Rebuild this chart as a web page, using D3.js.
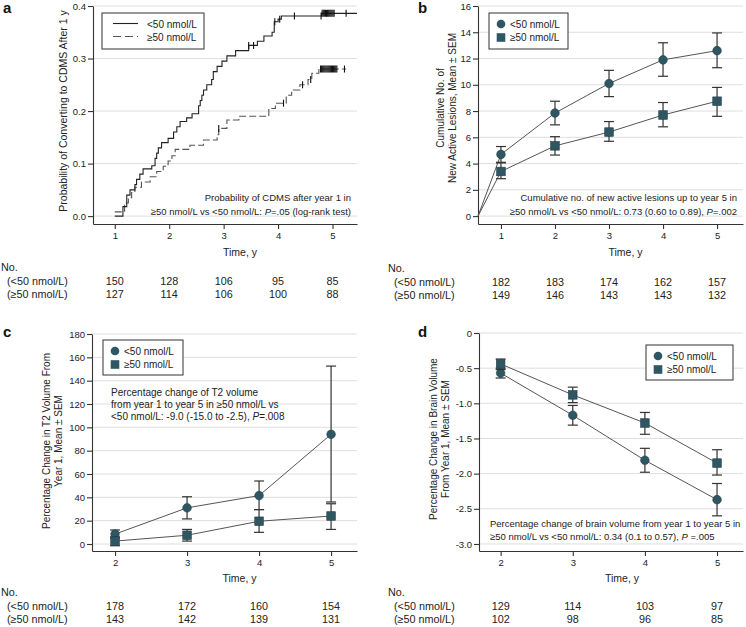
<!DOCTYPE html>
<html><head><meta charset="utf-8">
<script src="https://cdn.jsdelivr.net/npm/d3@7"></script>
<style>body{margin:0;background:#fff} svg{display:block}</style>
</head><body>
<svg id="chart" width="746" height="627"></svg>
<script>
// ---------------- DATA ----------------
const groups = ["<50 nmol/L", "≥50 nmol/L"];

// Panel a: Kaplan-Meier probability of converting to CDMS after 1 y
const kmLowTime = [1.0, 1.15, 1.22, 1.28, 1.37, 1.40, 1.46, 1.52, 1.68, 1.74, 1.77, 1.80, 1.86, 1.98, 2.08, 2.14, 2.20, 2.32, 2.42, 2.54, 2.57, 2.60, 2.63, 2.69, 2.78, 2.81, 2.88, 2.97, 3.06, 3.22, 3.46, 3.62, 3.74, 3.89, 3.93, 4.0, 4.06, 4.8, 5.45];
const kmLowProb = [0, 0.018, 0.04, 0.05, 0.06, 0.07, 0.08, 0.09, 0.096, 0.11, 0.12, 0.13, 0.14, 0.148, 0.16, 0.17, 0.18, 0.187, 0.195, 0.21, 0.22, 0.23, 0.24, 0.25, 0.26, 0.275, 0.285, 0.295, 0.305, 0.315, 0.325, 0.333, 0.343, 0.35, 0.37, 0.375, 0.381, 0.386, 0.386];
const kmLowCensor = [3.46, 3.55, 3.94, 4.03, 4.3, 4.79, 4.81, 4.83, 4.85, 4.87, 4.89, 4.91, 4.93, 4.95, 4.97, 4.99, 5.01, 5.03, 5.25];
const kmHighTime = [1.0, 1.18, 1.25, 1.31, 1.37, 1.49, 1.65, 1.77, 1.89, 1.98, 2.05, 2.11, 2.38, 2.63, 2.88, 2.91, 3.06, 3.28, 3.83, 3.95, 4.15, 4.25, 4.40, 4.55, 4.62, 4.75, 5.25];
const kmHighProb = [0.008, 0.025, 0.035, 0.045, 0.055, 0.065, 0.075, 0.085, 0.095, 0.105, 0.115, 0.127, 0.135, 0.145, 0.155, 0.167, 0.183, 0.19, 0.205, 0.215, 0.23, 0.24, 0.25, 0.26, 0.272, 0.28, 0.28];
const kmHighCensor = [2.91, 4.1, 4.45, 4.6, 4.78, 4.80, 4.82, 4.84, 4.86, 4.88, 4.90, 4.92, 4.94, 4.96, 4.98, 5.00, 5.02, 5.04, 5.06, 5.08, 5.22];
const aTicksX = [1, 2, 3, 4, 5];
const aTicksY = [0, 0.1, 0.2, 0.3, 0.4];
const aNLow = [150, 128, 106, 95, 85];
const aNHigh = [127, 114, 106, 100, 88];

// Panel b: cumulative number of new active lesions
const bTimes = [1, 2, 3, 4, 5];
const bLowMean = [4.7, 7.85, 10.1, 11.9, 12.6];
const bLowLo = [4.1, 6.95, 9.1, 10.65, 11.3];
const bLowHi = [5.3, 8.75, 11.1, 13.2, 13.95];
const bHighMean = [3.4, 5.35, 6.4, 7.7, 8.75];
const bHighLo = [2.85, 4.65, 5.7, 6.8, 7.6];
const bHighHi = [4.05, 6.05, 7.2, 8.65, 9.8];
const bStartValue = 0;
const bTicksY = [0, 2, 4, 6, 8, 10, 12, 14, 16];
const bNLow = [182, 183, 174, 162, 157];
const bNHigh = [149, 146, 143, 143, 132];

// Panel c: percentage change in T2 volume
const cTimes = [2, 3, 4, 5];
const cLowMean = [8.5, 31, 41.5, 94];
const cLowLo = [5, 21.5, 29.5, 36];
const cLowHi = [12, 40.5, 54, 152.5];
const cHighMean = [2.5, 7.5, 19.5, 24];
const cHighLo = [-1.5, 2.5, 10, 12.5];
const cHighHi = [6, 12.5, 29.5, 34.5];
const cTicksY = [0, 20, 40, 60, 80, 100, 120, 140, 160, 180];
const cNLow = [178, 172, 160, 154];
const cNHigh = [143, 142, 139, 131];

// Panel d: percentage change in brain volume
const dTimes = [2, 3, 4, 5];
const dLowMean = [-0.57, -1.17, -1.81, -2.37];
const dLowLo = [-0.64, -1.31, -1.98, -2.6];
const dLowHi = [-0.5, -1.03, -1.64, -2.14];
const dHighMean = [-0.44, -0.88, -1.28, -1.85];
const dHighLo = [-0.52, -0.99, -1.44, -2.02];
const dHighHi = [-0.37, -0.77, -1.13, -1.66];
const dTicksY = [0, -0.5, -1.0, -1.5, -2.0, -2.5, -3.0];
const dNLow = [129, 114, 103, 97];
const dNHigh = [102, 98, 96, 85];

// ---------------- DRAWING ----------------
const FONT = "'Liberation Sans',Arial,sans-serif";
const MARK = "#2f5663";
const INK = "#222";
const svg = d3.select("#chart").attr("font-family", FONT);

function makePanel(p) {
  const g = svg.append("g");
  const x = d3.scaleLinear().domain(p.xDomain).range([p.left, p.right]);
  const y = d3.scaleLinear().domain(p.yDomain).range([p.bottom, p.top]);
  g.append("g").selectAll("line").data(p.yTicks).join("line")
    .attr("x1", p.left).attr("x2", p.right)
    .attr("y1", d => y(d)).attr("y2", d => y(d))
    .attr("stroke", "#dedede").attr("stroke-width", 1);
  const ya = g.append("g").attr("transform", `translate(${p.left},0)`)
    .call(d3.axisLeft(y).tickValues(p.yTicks).tickFormat(p.yFormat).tickSize(5).tickSizeOuter(0).tickPadding(2));
  const xa = g.append("g").attr("transform", `translate(0,${p.bottom})`)
    .call(d3.axisBottom(x).tickValues(p.xTicks).tickFormat(d3.format("d")).tickSize(5).tickSizeOuter(0).tickPadding(3));
  [ya, xa].forEach(a => {
    a.selectAll("path,line").attr("stroke", "#333").attr("stroke-width", 1.1);
    a.selectAll("text").attr("font-family", FONT).attr("font-size", 9.5).attr("fill", INK);
  });
  g.append("text").attr("x", (p.left + p.right) / 2 + p.xTitleShift).attr("y", p.xTitleY)
    .attr("text-anchor", "middle").attr("font-size", 10.5).attr("fill", INK).text("Time, y");
  const yt = g.append("text").attr("transform", `translate(${p.yTitleX},${p.yTitleY}) rotate(-90)`)
    .attr("text-anchor", "middle").attr("font-size", p.yTitleSize).attr("fill", INK);
  p.yTitle.forEach((line, i) => {
    yt.append("tspan").attr("x", 0).attr("dy", i === 0 ? -(p.yTitle.length - 1) * 12.5 : 12.5).text(line);
  });
  g.append("text").attr("x", p.letterX).attr("y", p.letterY)
    .attr("font-weight", "bold").attr("font-size", 15).attr("fill", "#111").text(p.letter);
  return {g, x, y};
}

function addLines(g, lines, pos, anchor, lineH, size) {
  lines.forEach((parts, i) => {
    const t = g.append("text").attr("x", pos.x).attr("y", pos.y + i * lineH)
      .attr("text-anchor", anchor).attr("font-size", size).attr("fill", INK);
    parts.forEach(pt => {
      const s = t.append("tspan").text(pt[0]);
      if (pt[1]) s.attr("font-style", "italic");
    });
  });
}

function drawTable(g, x, times, nLow, nHigh, labelX, baseY) {
  const fs = 10.8;
  g.append("text").attr("x", labelX).attr("y", baseY).attr("font-size", fs).attr("fill", INK).text("No.");
  g.append("text").attr("x", labelX + 6).attr("y", baseY + 13.5).attr("font-size", fs).attr("fill", INK).text("(" + groups[0] + ")");
  g.append("text").attr("x", labelX + 6).attr("y", baseY + 27).attr("font-size", fs).attr("fill", INK).text("(" + groups[1] + ")");
  g.append("g").selectAll("text").data(times).join("text")
    .attr("x", d => x(d)).attr("y", baseY + 13.5).attr("text-anchor", "middle")
    .attr("font-size", fs).attr("fill", INK).text((d, i) => nLow[i]);
  g.append("g").selectAll("text").data(times).join("text")
    .attr("x", d => x(d)).attr("y", baseY + 27).attr("text-anchor", "middle")
    .attr("font-size", fs).attr("fill", INK).text((d, i) => nHigh[i]);
}

function drawSeries(g, x, y, times, mean, lo, hi, shape, start) {
  const pts = times.map((t, i) => [t, mean[i]]);
  if (start) pts.unshift(start);
  g.append("path").attr("d", d3.line().x(d => x(d[0])).y(d => y(d[1]))(pts))
    .attr("fill", "none").attr("stroke", "#555").attr("stroke-width", 1);
  return () => {
    const eb = g.append("g").attr("stroke", "#333").attr("stroke-width", 1.2);
    times.forEach((t, i) => {
      eb.append("line").attr("x1", x(t)).attr("x2", x(t)).attr("y1", y(lo[i])).attr("y2", y(hi[i]));
      [lo[i], hi[i]].forEach(v => eb.append("line").attr("x1", x(t) - 5).attr("x2", x(t) + 5).attr("y1", y(v)).attr("y2", y(v)));
    });
    const mk = g.append("g").attr("fill", MARK).attr("stroke", "#223f48").attr("stroke-width", 0.6);
    times.forEach((t, i) => {
      if (shape === "circle") mk.append("circle").attr("cx", x(t)).attr("cy", y(mean[i])).attr("r", 4.3);
      else mk.append("rect").attr("x", x(t) - 4.3).attr("y", y(mean[i]) - 4.3).attr("width", 8.6).attr("height", 8.6);
    });
  };
}

function markerLegend(g, box, items) {
  g.append("rect").attr("x", box.x).attr("y", box.y).attr("width", box.w).attr("height", box.h)
    .attr("fill", "#fff").attr("stroke", "#333").attr("stroke-width", 1);
  items.forEach((it, i) => {
    const cy = box.y + 11 + i * 13.5;
    if (it.shape === "circle") g.append("circle").attr("cx", box.x + 12).attr("cy", cy).attr("r", 4.3).attr("fill", MARK);
    else g.append("rect").attr("x", box.x + 7.7).attr("y", cy - 4.3).attr("width", 8.6).attr("height", 8.6).attr("fill", MARK);
    g.append("text").attr("x", box.x + 21).attr("y", cy + 3.8).attr("font-size", 10).attr("fill", INK).text(it.label);
  });
}

// ---- Panel a ----
{
  const P = makePanel({left: 93, right: 357, top: 6, bottom: 224, xDomain: [0.6, 5.45], yDomain: [-0.015, 0.4],
    xTicks: aTicksX, yTicks: aTicksY, yFormat: d => d.toFixed(1),
    xTitleShift: 15, xTitleY: 256, yTitleX: 67, yTitleY: 111, yTitleSize: 10.5, yTitle: ["Probability of Converting to CDMS After 1 y"],
    letter: "a", letterX: 3, letterY: 13});
  const {g, x, y} = P;
  const step = d3.line().curve(d3.curveStepAfter).x(d => x(d[0])).y(d => y(d[1]));
  const low = kmLowTime.map((t, i) => [t, kmLowProb[i]]);
  const high = kmHighTime.map((t, i) => [t, kmHighProb[i]]);
  g.append("path").attr("d", step(high)).attr("fill", "none")
    .attr("stroke", "#555").attr("stroke-width", 1.1).attr("stroke-dasharray", "7,3");
  g.append("path").attr("d", step(low)).attr("fill", "none").attr("stroke", "#222").attr("stroke-width", 1.1);
  const at = (times, probs, t) => probs[Math.max(0, d3.bisectRight(times, t) - 1)];
  const cz = g.append("g").attr("stroke", "#111").attr("stroke-width", 1.1);
  kmLowCensor.forEach(t => { const v = y(at(kmLowTime, kmLowProb, t)); cz.append("line").attr("x1", x(t)).attr("x2", x(t)).attr("y1", v - 3.5).attr("y2", v + 3.5); });
  kmHighCensor.forEach(t => { const v = y(at(kmHighTime, kmHighProb, t)); cz.append("line").attr("x1", x(t)).attr("x2", x(t)).attr("y1", v - 3.5).attr("y2", v + 3.5); });
  // legend
  g.append("rect").attr("x", 102).attr("y", 13).attr("width", 102).attr("height", 36).attr("fill", "#fff").attr("stroke", "#333");
  g.append("line").attr("x1", 113).attr("x2", 138).attr("y1", 23.5).attr("y2", 23.5).attr("stroke", "#222").attr("stroke-width", 1.1);
  g.append("line").attr("x1", 113).attr("x2", 138).attr("y1", 36.5).attr("y2", 36.5).attr("stroke", "#555").attr("stroke-width", 1.1).attr("stroke-dasharray", "8,4");
  g.append("text").attr("x", 147).attr("y", 27.5).attr("font-size", 10).attr("fill", INK).text(groups[0]);
  g.append("text").attr("x", 147).attr("y", 40.5).attr("font-size", 10).attr("fill", INK).text(groups[1]);
  addLines(g, [[["Probability of CDMS after year 1 in", false]],
    [["≥50 nmol/L vs <50 nmol/L: ", false], ["P", true], ["=.05 (log-rank test)", false]]], {x: 351, y: 201}, "end", 14, 9.5);
  drawTable(g, x, aTicksX, aNLow, aNHigh, 1, 271);
}

// ---- Panel b ----
{
  const P = makePanel({left: 478, right: 743, top: 6, bottom: 224, xDomain: [0.575, 5.48], yDomain: [-0.6, 16],
    xTicks: bTimes, yTicks: bTicksY, yFormat: d3.format("d"),
    xTitleShift: 15, xTitleY: 256, yTitleX: 456, yTitleY: 108, yTitleSize: 10, yTitle: ["Cumulative No. of", "New Active Lesions, Mean ± SEM"],
    letter: "b", letterX: 418, letterY: 13});
  const {g, x, y} = P;
  const start = [x.domain()[0], bStartValue];
  const f1 = drawSeries(g, x, y, bTimes, bLowMean, bLowLo, bLowHi, "circle", start);
  const f2 = drawSeries(g, x, y, bTimes, bHighMean, bHighLo, bHighHi, "square", start);
  f1(); f2();
  markerLegend(g, {x: 489, y: 13, w: 79, h: 36}, [{shape: "circle", label: groups[0]}, {shape: "square", label: groups[1]}]);
  addLines(g, [[["Cumulative no. of new active lesions up to year 5 in", false]],
    [["≥50 nmol/L vs <50 nmol/L: 0.73 (0.60 to 0.89), ", false], ["P", true], ["=.002", false]]], {x: 737, y: 201}, "end", 14, 9.5);
  drawTable(g, x, bTimes, bNLow, bNHigh, 388, 272);
}

// ---- Panel c ----
{
  const P = makePanel({left: 92, right: 357, top: 334, bottom: 551, xDomain: [1.68, 5.36], yDomain: [-6, 180],
    xTicks: cTimes, yTicks: cTicksY, yFormat: d3.format("d"),
    xTitleShift: 15, xTitleY: 582, yTitleX: 62, yTitleY: 441, yTitleSize: 10, yTitle: ["Percentage Change in T2 Volume From", "Year 1, Mean ± SEM"],
    letter: "c", letterX: 3, letterY: 337});
  const {g, x, y} = P;
  const f1 = drawSeries(g, x, y, cTimes, cLowMean, cLowLo, cLowHi, "circle");
  const f2 = drawSeries(g, x, y, cTimes, cHighMean, cHighLo, cHighHi, "square");
  f1(); f2();
  markerLegend(g, {x: 103, y: 340, w: 80, h: 35}, [{shape: "circle", label: groups[0]}, {shape: "square", label: groups[1]}]);
  addLines(g, [[["Percentage change of T2 volume", false]],
    [["from year 1 to year 5 in ≥50 nmol/L vs", false]],
    [["<50 nmol/L: -9.0 (-15.0 to -2.5), ", false], ["P", true], ["=.008", false]]], {x: 111, y: 396}, "start", 11.8, 10);
  drawTable(g, x, cTimes, cNLow, cNHigh, 1, 596);
}

// ---- Panel d ----
{
  const P = makePanel({left: 479, right: 743, top: 333, bottom: 551, xDomain: [1.7, 5.36], yDomain: [-3.1, 0],
    xTicks: dTimes, yTicks: dTicksY, yFormat: d => d === 0 ? "0" : d.toFixed(1),
    xTitleShift: 11, xTitleY: 582, yTitleX: 449, yTitleY: 439, yTitleSize: 10, yTitle: ["Percentage Change in Brain Volume", "From Year 1, Mean ± SEM"],
    letter: "d", letterX: 418, letterY: 337});
  const {g, x, y} = P;
  const f1 = drawSeries(g, x, y, dTimes, dLowMean, dLowLo, dLowHi, "circle");
  const f2 = drawSeries(g, x, y, dTimes, dHighMean, dHighLo, dHighHi, "square");
  f1(); f2();
  markerLegend(g, {x: 646, y: 345, w: 87, h: 35}, [{shape: "circle", label: groups[0]}, {shape: "square", label: groups[1]}]);
  addLines(g, [[["Percentage change of brain volume from year 1 to year 5 in", false]],
    [["≥50 nmol/L vs <50 nmol/L: 0.34 (0.1 to 0.57), ", false], ["P", true], [" =.005", false]]], {x: 490, y: 527}, "start", 13, 9.5);
  drawTable(g, x, dTimes, dNLow, dNHigh, 388, 596);
}
</script>
</body></html>
